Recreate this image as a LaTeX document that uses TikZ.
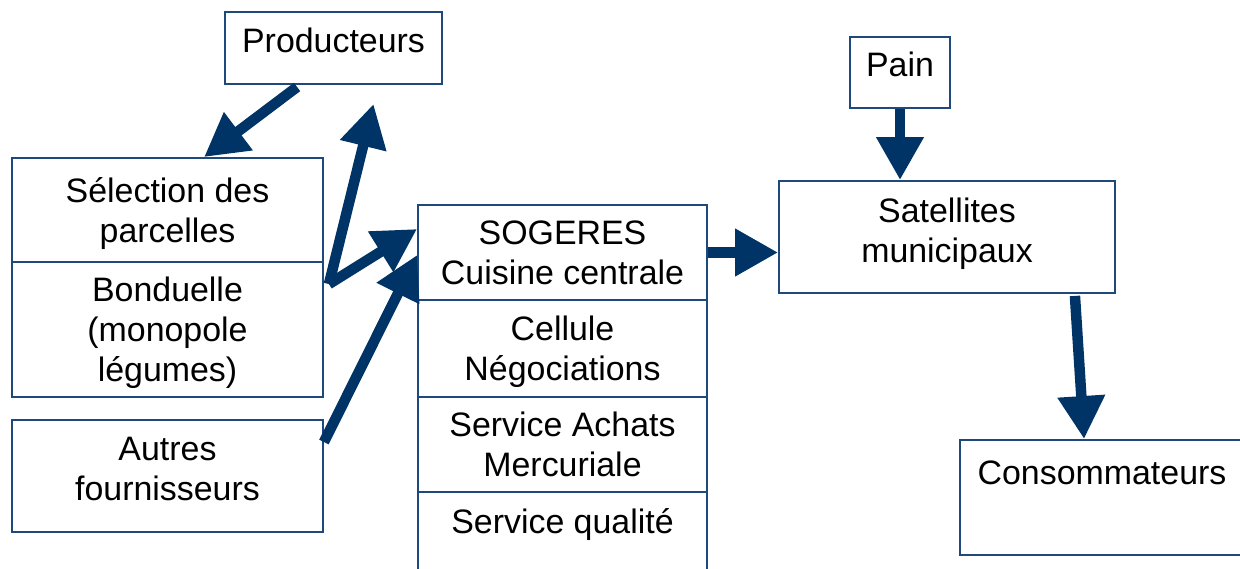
\documentclass[tikz,border=0pt]{standalone}
\usepackage{fontspec}
\setmainfont{Liberation Sans}
\usetikzlibrary{arrows.meta,calc}
\definecolor{bleufonce}{RGB}{0,51,102}
\definecolor{bordbleu}{RGB}{31,73,125}

\begin{document}
\begin{tikzpicture}[x=0.02cm,y=-0.02cm]
%styles des boîtes
\tikzstyle{boite}=[rectangle,draw=bordbleu,line width=1.1pt,fill=white,
align=center,inner sep=2pt,font=\fontsize{19.3}{22.8}\selectfont]
%style des flèches
\tikzstyle{fleche}=[draw=bleufonce,line width=0.21cm,
-{Triangle[width=0.9cm,length=0.86cm,fill=bleufonce]}]
\useasboundingbox (0,0) rectangle (1240,568);
%placement des boîtes
\node[boite,minimum width=4.34cm,minimum height=1.44cm,text depth=0.32cm] (prod) at (333.5,48) {Producteurs};
\node[boite,minimum width=6.22cm,minimum height=2.08cm,text depth=0cm] (selection) at (167.5,210) {Sélection des\\parcelles};
\node[boite,minimum width=6.22cm,minimum height=2.7cm,text depth=0cm] (bonduelle) at (167.5,329.5) {Bonduelle\\(monopole\\légumes)};
\node[boite,minimum width=6.22cm,minimum height=2.24cm,text depth=0.3cm] (autres) at (167.5,476) {Autres\\fournisseurs};
\node[boite,minimum width=5.78cm,minimum height=1.9cm] (sogeres) at (562.5,252.5) {SOGERES\\Cuisine centrale};
\node[boite,minimum width=5.78cm,minimum height=1.94cm,text depth=0.02cm] (cellule) at (562.5,348.5) {Cellule\\Négociations};
\node[boite,minimum width=5.78cm,minimum height=1.9cm] (achats) at (562.5,444.5) {Service Achats\\Mercuriale};
\node[boite,minimum width=5.78cm,minimum height=1.96cm] (qualite) at (562.5,541) {Service qualité\\~};
\node[boite,minimum width=2cm,minimum height=1.42cm,text depth=0.32cm] (pain) at (900,72.5) {Pain};
\node[boite,minimum width=6.72cm,minimum height=2.24cm,text depth=0.26cm] (satellites) at (947,237) {Satellites\\municipaux};
\node[boite,minimum width=5.68cm,minimum height=2.3cm,text depth=0.2cm] (conso) at (1102,497.5) {Consommateurs\\~};
%placement des flèches
\draw[fleche] ($(prod.south west)+(73,2)$) -- ($(selection.north west)+(193,0)$);
\draw[fleche] ($(bonduelle.north east)+(5,23)$) -- ($(prod.south)+(40,19)$);
\draw[fleche] ($(bonduelle.north east)+(5,23)$) -- ($(sogeres.west)+(0,-23.5)$);
\draw[fleche] ($(autres.north east)+(0,23)$) -- ($(sogeres.west)+(0,2.5)$);
\draw[fleche] (sogeres.east) -- (sogeres.east -| satellites.west);
\draw[fleche] (pain.south) -- (pain.south |- satellites.north);
\draw[fleche] ($(satellites.south east)+(-41,2)$) -- ($(conso.north west)+(125,0)$);
\end{tikzpicture}
\end{document}
